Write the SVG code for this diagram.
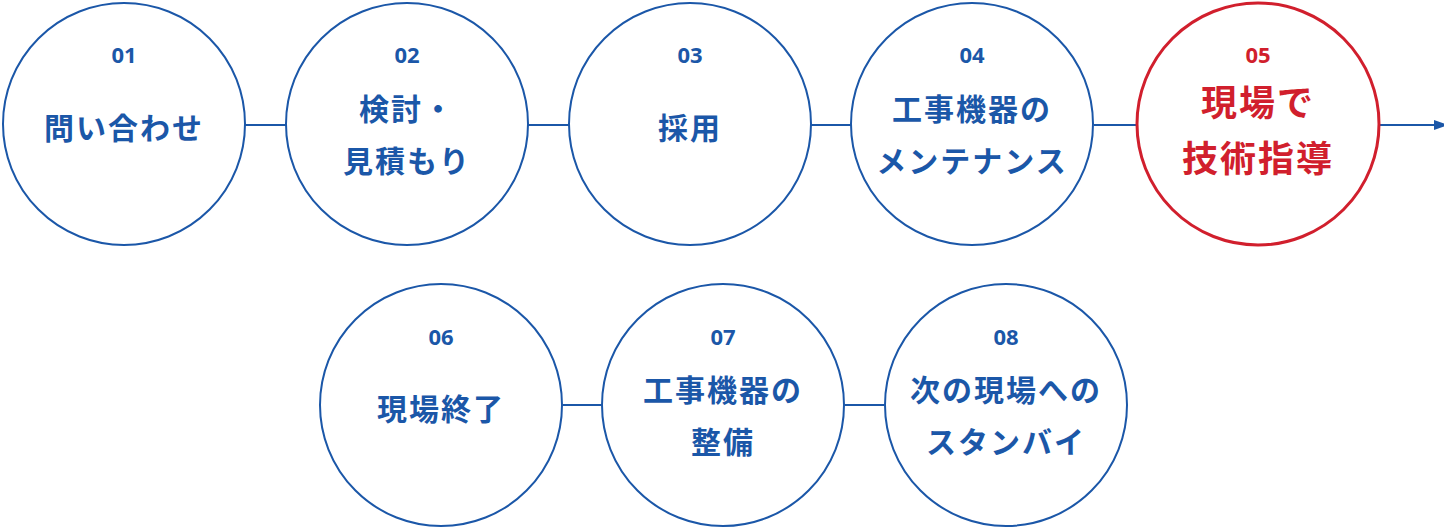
<svg xmlns="http://www.w3.org/2000/svg" width="1444" height="528" viewBox="0 0 1444 528">
<style>
.c{fill:#fff;stroke:#1b57a8;stroke-width:2}
.r{fill:#fff;stroke:#d11f2d;stroke-width:3}
.n{font-family:"Noto Sans","Noto Sans CJK JP",sans-serif;font-weight:700;font-size:22px;fill:#1b57a8;text-anchor:middle}
.t{font-family:"Noto Sans CJK JP",sans-serif;font-weight:700;font-size:30px;fill:#1b57a8;text-anchor:middle;letter-spacing:2px}
.rn{fill:#d11f2d}
.rt{font-family:"Noto Sans CJK JP",sans-serif;font-weight:700;font-size:36px;fill:#d11f2d;text-anchor:middle;letter-spacing:2px}
.l{stroke:#1b57a8;stroke-width:2;fill:none}
</style>
<defs><marker id="a" markerWidth="10" markerHeight="10" refX="9" refY="5" orient="auto" markerUnits="userSpaceOnUse"><path d="M0,0L14,5L0,10z" fill="#1b57a8"/></marker></defs>
<g id="connectors">
<line class="l" x1="244" y1="125" x2="287" y2="125"/>
<line class="l" x1="527" y1="125" x2="569" y2="125"/>
<line class="l" x1="811" y1="125" x2="851" y2="125"/>
<line class="l" x1="1094" y1="125" x2="1137" y2="125"/>
<line class="l" x1="1380" y1="125" x2="1443" y2="125" marker-end="url(#a)"/>
<line class="l" x1="563" y1="405" x2="601" y2="405"/>
<line class="l" x1="845" y1="405" x2="884" y2="405"/>
</g>
<g id="n1"><circle class="c" cx="124" cy="124" r="121"/><text class="n" x="124" y="63">01</text><text class="t" x="124" y="139">問い合わせ</text></g>
<g id="n2"><circle class="c" cx="407" cy="124" r="121"/><text class="n" x="407" y="63">02</text><text class="t" x="407" y="120">検討・</text><text class="t" x="407" y="172">見積もり</text></g>
<g id="n3"><circle class="c" cx="690" cy="124" r="121"/><text class="n" x="690" y="63">03</text><text class="t" x="690" y="139">採用</text></g>
<g id="n4"><circle class="c" cx="972" cy="124" r="121"/><text class="n" x="972" y="63">04</text><text class="t" x="972" y="120">工事機器の</text><text class="t" x="972" y="172">メンテナンス</text></g>
<g id="n5"><circle class="r" cx="1258" cy="124" r="121"/><text class="n rn" x="1258" y="63">05</text><text class="rt" x="1258" y="116">現場で</text><text class="rt" x="1258" y="172">技術指導</text></g>
<g id="n6"><circle class="c" cx="441" cy="405" r="121"/><text class="n" x="441" y="345">06</text><text class="t" x="441" y="420">現場終了</text></g>
<g id="n7"><circle class="c" cx="723" cy="405" r="121"/><text class="n" x="723" y="345">07</text><text class="t" x="723" y="401">工事機器の</text><text class="t" x="723" y="453">整備</text></g>
<g id="n8"><circle class="c" cx="1006" cy="405" r="121"/><text class="n" x="1006" y="345">08</text><text class="t" x="1006" y="401">次の現場への</text><text class="t" x="1006" y="453">スタンバイ</text></g>
</svg>
